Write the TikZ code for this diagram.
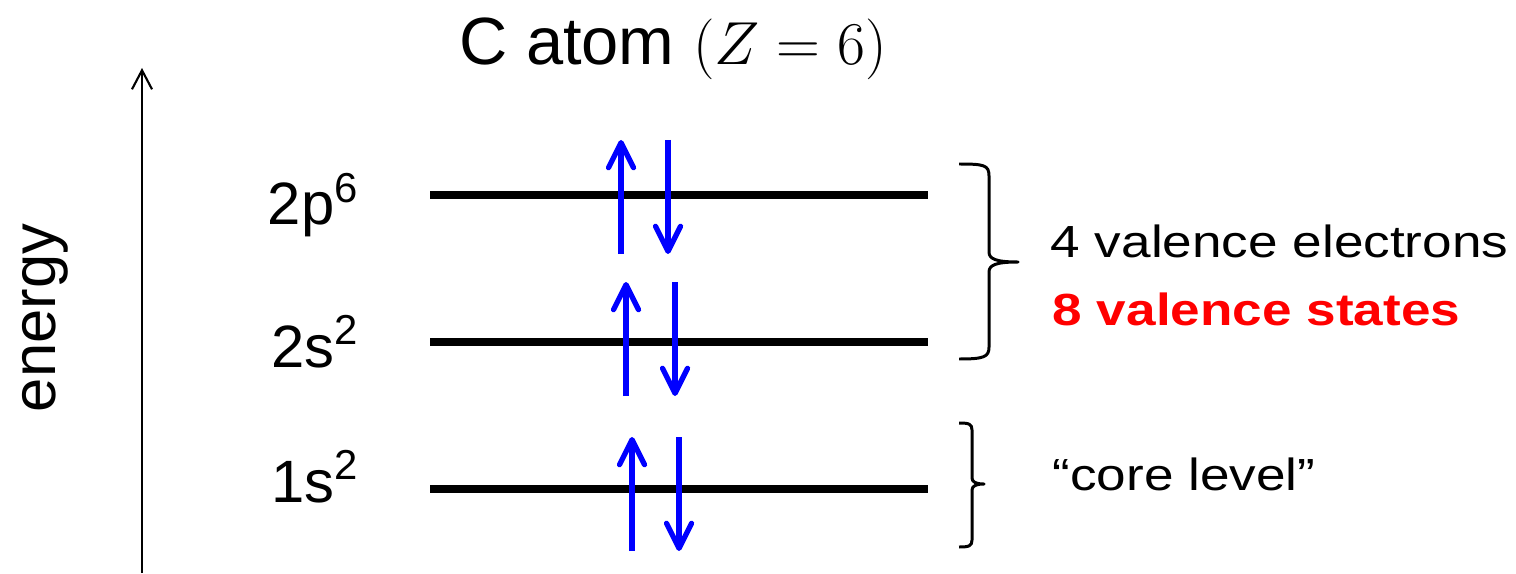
\documentclass[tikz,border=0pt]{standalone}
\usepackage{fontspec}
\setmainfont{Liberation Sans}
\newfontfamily\widefont[FakeStretch=1.18]{Liberation Sans}
\usepackage{tikz}
\usetikzlibrary{arrows.meta}

\tikzset{
  levelline/.style={line width=2pt},
  spinarrow/.style={blue,line width=1.5pt,-{Straight Barb[length=2.5mm,width=2.5mm,round]}},
  orblabel/.style={font=\fontsize{17}{20}\selectfont,anchor=base east,inner sep=0pt},
  sidetext/.style={font=\widefont\fontsize{12.8}{15}\selectfont,anchor=base west,inner sep=0pt},
  bracket/.style={line width=0.85pt,line join=round},
}

\begin{document}
\begin{tikzpicture}[x=0.01cm,y=-0.01cm]
\useasboundingbox (0,0) rectangle (1516,573);
\node[font=\fontsize{19}{23}\selectfont,anchor=base,inner sep=0pt] (title) at (673,65) {C atom $(Z=6)$};
% energy axis
\coordinate (ebot) at (142,573);
\coordinate (etop) at (142,68);
\draw[line width=0.6pt,-{Straight Barb[length=1.9mm,width=2mm]}] (ebot) -- (etop);
\node[font=\fontsize{17.5}{21}\selectfont,rotate=90,anchor=base,inner sep=0pt] (energy) at (55,318) {energy};
% levels with their electron pairs
\foreach \i/\y/\xu/\xd/\ytop/\ybot/\txt/\bl in {
    2p/195/621/668/140/254/{2p\textsuperscript{6}}/225,
    2s/342/626/675/282/396/{2s\textsuperscript{2}}/367,
    1s/489/632/679/437/551/{1s\textsuperscript{2}}/502} {
  \draw[levelline] (430,\y) -- (928,\y);
  \node[orblabel] (lbl\i) at (360,\bl) {\txt};
  \draw[spinarrow] (\xu,\ybot) -- (\xu,\ytop);
  \draw[spinarrow] (\xd,\ytop) -- (\xd,\ybot);
}
% braces
\draw[bracket] (959,164) .. controls (984,164) and (989,165) .. (989,176) -- (989,252)
  .. controls (989,259) and (996,262) .. (1018,262)
  .. controls (996,262) and (989,265) .. (989,272) -- (989,347)
  .. controls (989,357) and (984,359) .. (959,359);
\draw[bracket] (959,423) .. controls (969,423) and (972,424) .. (972,430) -- (972,478)
  .. controls (972,482) and (976,484) .. (984,484)
  .. controls (976,484) and (972,486) .. (972,490) -- (972,540)
  .. controls (972,546) and (969,547) .. (959,547);
\node[sidetext] (valel) at (1050,257) {4 valence electrons};
\node[sidetext,red,font=\widefont\bfseries\fontsize{12.8}{15}\selectfont] (valst) at (1052,325) {8 valence states};
\node[sidetext] (core) at (1052,490) {“core level”};
\end{tikzpicture}
\end{document}
